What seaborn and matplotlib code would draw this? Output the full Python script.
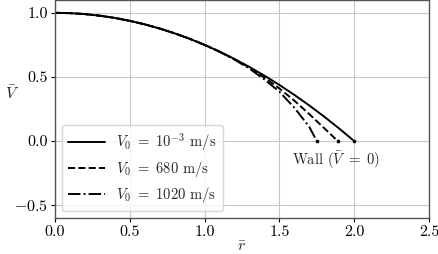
import numpy as np
import pandas as pd
import matplotlib
matplotlib.use("Agg")
import matplotlib.pyplot as plt
import seaborn as sns

# Data
r_slow = [0.0, 0.1, 0.2, 0.3, 0.4, 0.5, 0.6, 0.7, 0.8, 0.9, 1.0, 1.1, 1.2, 1.3, 1.4, 1.5, 1.6, 1.7, 1.8, 1.9, 2.0]
v_slow = [1.0, 0.9975, 0.99, 0.9775, 0.96, 0.9375, 0.91, 0.8775, 0.84, 0.7975, 0.75, 0.6975, 0.64, 0.5775, 0.51, 0.4375, 0.36, 0.2775, 0.19, 0.0975, 0.0]

r_mid = [0.0, 0.1, 0.2, 0.3, 0.4, 0.5, 0.6, 0.7, 0.8, 0.9, 1.0, 1.1, 1.2, 1.3, 1.4, 1.5, 1.6, 1.7, 1.8, 1.89]
v_mid = [1.0, 0.9975, 0.99, 0.9775, 0.96, 0.9375, 0.91, 0.8775, 0.84, 0.7975, 0.75, 0.6975, 0.638, 0.572, 0.495, 0.41, 0.315, 0.21, 0.10, 0.0]

r_fast = [0.0, 0.1, 0.2, 0.3, 0.4, 0.5, 0.6, 0.7, 0.8, 0.9, 1.0, 1.1, 1.2, 1.3, 1.4, 1.5, 1.6, 1.7, 1.75]
v_fast = [1.0, 0.9975, 0.99, 0.9775, 0.96, 0.9375, 0.91, 0.8775, 0.84, 0.7975, 0.75, 0.6965, 0.635, 0.565, 0.48, 0.385, 0.26, 0.11, 0.0]

labels = [r"$V_0\ =\ 10^{-3}$ m/s", r"$V_0\ =\ 680$ m/s", r"$V_0\ =\ 1020$ m/s"]
wall_r = [r_slow[-1], r_mid[-1], r_fast[-1]]
wall_v = [0.0, 0.0, 0.0]

sns.set_style("whitegrid")
plt.rcParams["font.family"] = "serif"
plt.rcParams["font.serif"] = ["cmr10"]
plt.rcParams["mathtext.fontset"] = "cm"
plt.rcParams["axes.formatter.use_mathtext"] = True

fig = plt.figure(figsize=(4.39, 2.54), dpi=100)
ax = fig.add_axes([0.1253, 0.1417, 0.8519, 0.8583])

styles = ["-", "--", "-."]
for rr, vv, lab, ls in zip([r_slow, r_mid, r_fast], [v_slow, v_mid, v_fast], labels, styles):
    df = pd.DataFrame({"r": rr, "v": vv})
    sns.lineplot(data=df, x="r", y="v", ax=ax, color="black", lw=1.4, linestyle=ls, label=lab, sort=False)

sns.scatterplot(x=wall_r, y=wall_v, ax=ax, color="black", s=8, zorder=5, legend=False)

ax.text(1.88, -0.15, r"Wall ($\bar{V}\ =\ 0$)", ha="center", va="center", fontsize=10.5)

ax.set_xlim(0, 2.5)
ax.set_ylim(-0.6, 1.1)
ax.set_xticks([0.0, 0.5, 1.0, 1.5, 2.0, 2.5])
ax.set_yticks([-0.5, 0.0, 0.5, 1.0])
ax.set_xticklabels(["0.0", "0.5", "1.0", "1.5", "2.0", "2.5"])
ax.set_yticklabels([r"$-0.5$", "0.0", "0.5", "1.0"])
ax.tick_params(labelsize=11.5, length=3, width=0.8, colors="black", bottom=True, left=True, pad=2)
ax.set_xlabel(r"$\bar{r}$", fontsize=11.5, labelpad=1)
ax.set_ylabel(r"$\bar{V}$", fontsize=11.5, rotation=0, labelpad=4)
ax.yaxis.set_label_coords(-0.115, 0.53)
for s in ax.spines.values():
    s.set_color("#555555")
    s.set_linewidth(1.0)
ax.grid(True, color="#c8c8c8", lw=0.8)

leg = ax.legend(loc="lower left", fontsize=10.5, frameon=True, borderaxespad=0.45,
                handlelength=2.5, labelspacing=0.4, borderpad=0.45)
leg.get_frame().set_edgecolor("#cccccc")

fig.savefig("out.png", dpi=100)
